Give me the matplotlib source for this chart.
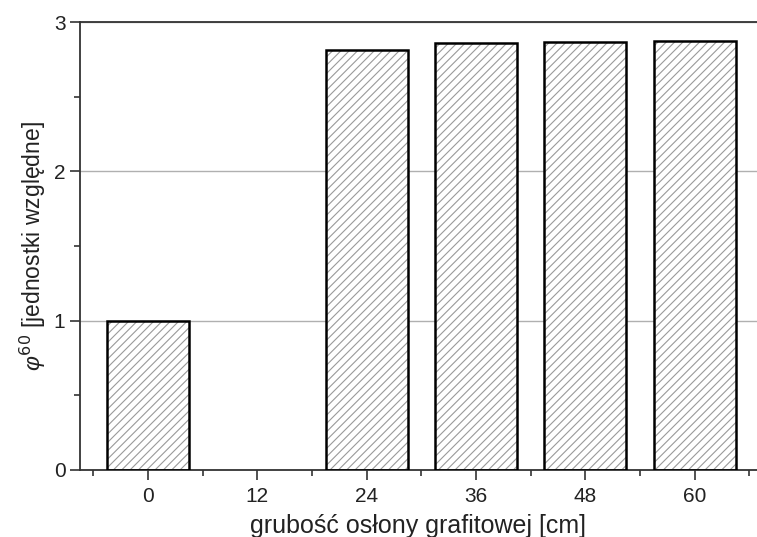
import matplotlib.pyplot as plt
from matplotlib.ticker import MultipleLocator

plt.rcParams['font.family'] = ['Liberation Sans', 'DejaVu Sans']
plt.rcParams['mathtext.fontset'] = 'custom'
plt.rcParams['mathtext.it'] = 'Liberation Sans:italic'
plt.rcParams['hatch.linewidth'] = 0.8

# grubość osłony [cm] i względny strumień
thickness = [0, 12, 24, 36, 48, 60]
phi60 = [1.0, 0.0, 2.81, 2.86, 2.87, 2.875]
tick_labels = ['0', '12', '24', '36', '48', '60']

# słupki o zerowej wysokości nie są rysowane
xs = [t for t, v in zip(thickness, phi60) if v > 0]
vs = [v for v in phi60 if v > 0]

fig = plt.figure(figsize=(7.57, 5.37), dpi=100)
ax = fig.add_axes([0.1057, 0.1248, 0.894, 0.834])

# najpierw szrafura (szara), potem czarne obramowanie
ax.bar(xs, vs, width=9, color='white', edgecolor='#9a9a9a',
       hatch='////', linewidth=0, zorder=2)
ax.bar(xs, vs, width=9, fill=False, edgecolor='black',
       linewidth=1.8, zorder=3)

ax.set_xlim(-7.45, 66.8)
ax.set_ylim(0, 3)
ax.set_xticks(thickness)
ax.set_xticklabels(tick_labels)
ax.xaxis.set_minor_locator(MultipleLocator(6))
ax.set_yticks([0, 1, 2, 3])
ax.yaxis.set_minor_locator(MultipleLocator(0.5))

ax.grid(axis='y', color='#b0b0b0', linewidth=1.0, zorder=1)
ax.set_axisbelow(True)

ax.tick_params(which='major', direction='out', length=7, width=1.2,
               labelsize=15, color='#333333', labelcolor='#222222')
ax.tick_params(which='minor', direction='out', length=4, width=1.2,
               color='#333333')
ax.tick_params(axis='x', pad=5)

for side in ['left', 'bottom', 'top']:
    ax.spines[side].set_linewidth(1.3)
    ax.spines[side].set_color('#333333')
ax.spines['right'].set_visible(False)

ax.set_xlabel('grubość osłony grafitowej [cm]', fontsize=18, labelpad=6,
              color='#222222')
ax.set_ylabel(r'$\varphi^{\mathit{60}}$ [jednostki względne]', fontsize=16.5,
              labelpad=4, color='#222222')

fig.savefig('out.png', dpi=100)
